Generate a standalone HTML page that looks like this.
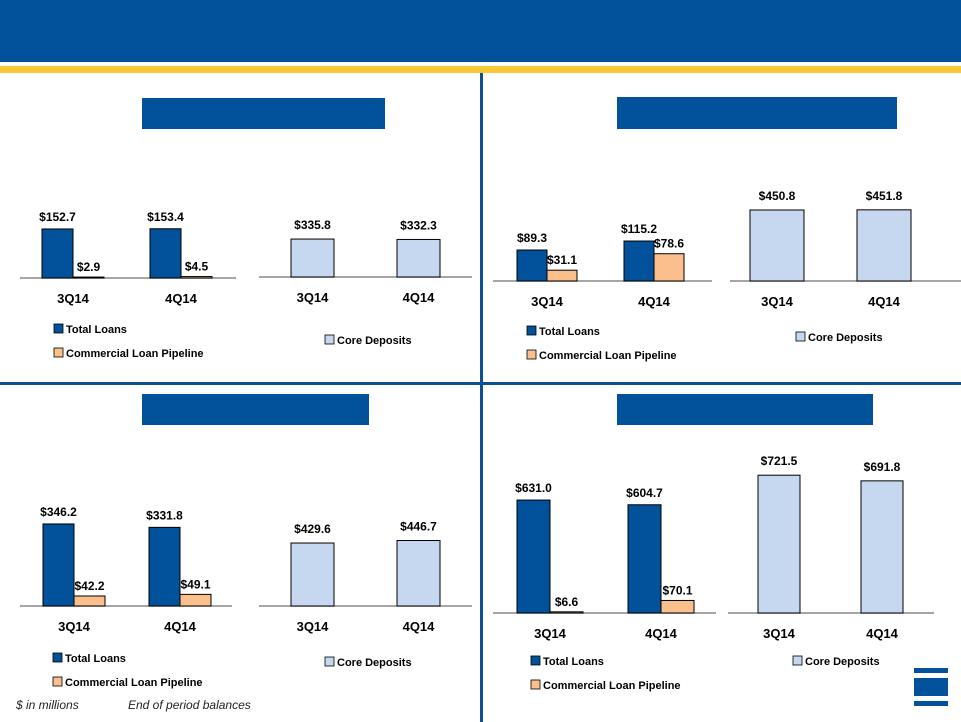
<!DOCTYPE html>
<html><head><meta charset="utf-8"><style>
body{margin:0;width:961px;height:722px;overflow:hidden;background:#fff;font-family:"Liberation Sans",sans-serif;position:relative}
.abs{position:absolute}
svg text{font-family:"Liberation Sans",sans-serif;font-weight:bold}
</style></head><body>
<div class="abs" style="left:0;top:0;width:961px;height:62px;background:#02529b"></div>
<div class="abs" style="left:0;top:66px;width:961px;height:7px;background:#f9c733"></div>
<div class="abs" style="left:480px;top:73px;width:3px;height:649px;background:#0b4f94"></div>
<div class="abs" style="left:0;top:382px;width:961px;height:3px;background:#0b4f94"></div>
<div class="abs" style="left:142px;top:98px;width:243px;height:31px;background:#02529b"></div>
<div class="abs" style="left:617px;top:97px;width:280px;height:32px;background:#02529b"></div>
<div class="abs" style="left:142px;top:394px;width:227px;height:31px;background:#02529b"></div>
<div class="abs" style="left:617px;top:394px;width:256px;height:31px;background:#02529b"></div>
<div class="abs" style="left:914px;top:668px;width:34px;height:38px">
<div style="position:absolute;left:0;top:0;width:34px;height:5px;background:#02529b"></div>
<div style="position:absolute;left:0;top:10px;width:34px;height:18px;background:#02529b"></div>
<div style="position:absolute;left:0;top:33px;width:34px;height:5px;background:#02529b"></div>
</div>
<div class="abs" style="left:16px;top:698px;font-size:12px;font-style:italic;color:#222">$ in millions</div>
<div class="abs" style="left:128px;top:698px;font-size:12px;font-style:italic;color:#222">End of period balances</div>
<svg id="chart" class="abs" style="left:0;top:0" width="961" height="722"></svg>
<script>
const categories=["3Q14","4Q14"];
const loans1=[152.7,153.4], pipe1=[2.9,4.5], dep1=[335.8,332.3];
const loans2=[89.3,115.2], pipe2=[31.1,78.6], dep2=[450.8,451.8];
const loans3=[346.2,331.8], pipe3=[42.2,49.1], dep3=[429.6,446.7];
const loans4=[631.0,604.7], pipe4=[6.6,70.1], dep4=[721.5,691.8];
const NS="http://www.w3.org/2000/svg";
const svg=document.getElementById('chart');
function mk(t,a){const e=document.createElementNS(NS,t);for(const k in a)e.setAttribute(k,a[k]);svg.appendChild(e);return e;}
function txt(x,y,s,size,anchor,name){const e=mk('text',{x:x,y:y,'font-size':size,'text-anchor':anchor||'middle',fill:'#000'});e.textContent=s;


return e;}
const fmt=v=>'$'+v.toFixed(1);
function loanChart(p,loans,pipe){
  const y=v=>p.base-v*p.k;
  const ax=mk('line',{x1:p.ax0,x2:p.ax1,y1:p.base,y2:p.base,stroke:'#888','stroke-width':1.5});
  
  
  categories.forEach((c,i)=>{
    const x0=p.x[i];
    const r1=mk('rect',{x:x0,y:y(loans[i]),width:p.w,height:loans[i]*p.k,fill:'#02529b',stroke:'#000','stroke-width':1});
    
    
    const r2=mk('rect',{x:x0+p.w,y:y(pipe[i]),width:p.w,height:pipe[i]*p.k,fill:'#fbbf8e',stroke:'#000','stroke-width':1});
    
    
    txt(x0+p.w/2,y(loans[i])-8,fmt(loans[i]),12,'middle','value-label');
    txt(x0+p.w*1.5,y(pipe[i])-6,fmt(pipe[i]),12,'middle','value-label');
    txt(x0+p.w,p.base+25,c,13,'middle','x-tick-label');
  });
  const l1=mk('rect',{x:p.lx,y:p.ly,width:9,height:9,fill:'#02529b',stroke:'#000','stroke-width':0.8});
  
  
  txt(p.lx+12,p.ly+9,'Total Loans',11,'start','legend-entry');
  const l2=mk('rect',{x:p.lx,y:p.ly+24,width:9,height:9,fill:'#fbbf8e',stroke:'#000','stroke-width':0.8});
  
  
  txt(p.lx+12,p.ly+33,'Commercial Loan Pipeline',11,'start','legend-entry');
}
function depChart(p,dep){
  const y=v=>p.base-v*p.k;
  const ax=mk('line',{x1:p.ax0,x2:p.ax1,y1:p.base,y2:p.base,stroke:'#888','stroke-width':1.5});
  
  
  categories.forEach((c,i)=>{
    const r=mk('rect',{x:p.x[i],y:y(dep[i]),width:p.w,height:dep[i]*p.k,fill:'#c6d8ef',stroke:'#000','stroke-width':1});
    
    
    txt(p.x[i]+p.w/2,y(dep[i])-10,fmt(dep[i]),12,'middle','value-label');
    txt(p.x[i]+p.w/2,p.base+25,c,13,'middle','x-tick-label');
  });
  const l=mk('rect',{x:p.lx,y:p.ly,width:9,height:9,fill:'#c6d8ef',stroke:'#000','stroke-width':0.8});
  
  
  txt(p.lx+12,p.ly+9,'Core Deposits',11,'start','legend-entry');
}
loanChart({base:278,k:0.321,x:[42,150],w:31,ax0:20,ax1:236,lx:54,ly:324},loans1,pipe1);
depChart({base:277,k:0.113,x:[291,397],w:43,ax0:259,ax1:472,lx:325,ly:335},dep1);
loanChart({base:281,k:0.347,x:[517,624],w:30,ax0:493,ax1:712,lx:527,ly:326},loans2,pipe2);
depChart({base:281,k:0.1575,x:[750,857],w:54,ax0:730,ax1:968,lx:796,ly:332},dep2);
loanChart({base:606,k:0.237,x:[43,149],w:31,ax0:20,ax1:232,lx:53,ly:653},loans3,pipe3);
depChart({base:606,k:0.1466,x:[291,397],w:43,ax0:259,ax1:472,lx:325,ly:657},dep3);
loanChart({base:613,k:0.179,x:[517,628],w:33,ax0:493,ax1:716,lx:531,ly:656},loans4,pipe4);
depChart({base:613,k:0.191,x:[758,861],w:42,ax0:728,ax1:934,lx:793,ly:656},dep4);
</script>
</body></html>
